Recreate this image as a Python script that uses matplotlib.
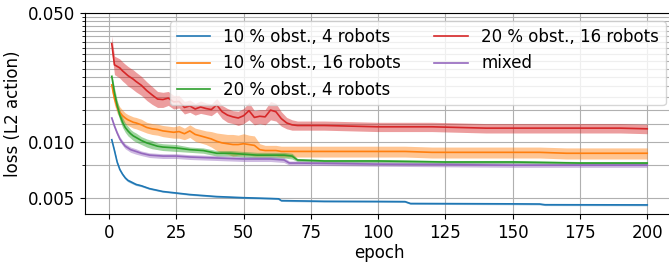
import numpy as np
import matplotlib
matplotlib.use("Agg")
import matplotlib.pyplot as plt
from matplotlib.ticker import FixedLocator, MultipleLocator, FormatStrFormatter, NullFormatter

# --- datos ---
labels = ["10 % obst., 4 robots", "10 % obst., 16 robots", "20 % obst., 4 robots",
          "20 % obst., 16 robots", "mixed"]

ep_dense = [1, 2, 3, 4, 5, 6, 7, 8, 9, 10,
            12, 14, 16, 18, 20, 22, 24, 26, 28, 30,
            32, 34, 36, 38, 40, 42, 44, 46, 48, 50,
            52, 54, 56, 58, 60, 62, 64, 66, 68, 70,
            80, 90, 100, 110, 120, 130, 140, 150, 160, 170, 180, 190, 200]

red_loss = [0.0341, 0.0262, 0.0257, 0.0252, 0.0243, 0.0236, 0.0229, 0.0224, 0.0219, 0.0213,
            0.0203, 0.0190, 0.0180, 0.0171, 0.0170, 0.0173, 0.0165, 0.0166, 0.0154, 0.0157,
            0.0151, 0.0155, 0.0152, 0.0150, 0.0159, 0.0146, 0.0140, 0.0137, 0.0135, 0.0139,
            0.0148, 0.0136, 0.0138, 0.0137, 0.0149, 0.0146, 0.0134, 0.0127, 0.0124, 0.0123,
            0.0123, 0.0122, 0.0121, 0.0121, 0.0121, 0.0120, 0.0119, 0.0119, 0.0119, 0.0119,
            0.0119, 0.0119, 0.0118]
red_std = [0.0035, 0.0030, 0.0030, 0.0030, 0.0029, 0.0028, 0.0028, 0.0027, 0.0027, 0.0026,
           0.0024, 0.0022, 0.0020, 0.0017, 0.0016, 0.0015, 0.0014, 0.0013, 0.0012, 0.0012,
           0.0011, 0.0012, 0.0011, 0.0011, 0.0013, 0.0012, 0.0012, 0.0011, 0.0012, 0.0013,
           0.0016, 0.0012, 0.0012, 0.0013, 0.0017, 0.0016, 0.0012, 0.0009, 0.0008, 0.0007,
           0.0007, 0.0007, 0.0007, 0.0007, 0.0007, 0.0007, 0.0007, 0.0007, 0.0007, 0.0007,
           0.0007, 0.0007, 0.0007]

orange_loss = [0.0204, 0.0172, 0.0154, 0.0145, 0.0139, 0.0135, 0.0132, 0.0130, 0.0128, 0.0127,
               0.0124, 0.0120, 0.0118, 0.0117, 0.0115, 0.0114, 0.0113, 0.0114, 0.0111, 0.0115,
               0.0110, 0.0108, 0.0106, 0.0104, 0.0101, 0.0099, 0.0098, 0.0097, 0.0097, 0.0098,
               0.0097, 0.0096, 0.0091, 0.0090, 0.0090, 0.0090, 0.0089, 0.0089, 0.0089, 0.0089,
               0.0089, 0.0089, 0.0089, 0.0089, 0.0088, 0.0088, 0.0088, 0.0088, 0.0088, 0.0087,
               0.0087, 0.0087, 0.0087]
orange_std = [0.0015, 0.0013, 0.0011, 0.0010, 0.0010, 0.0009, 0.0009, 0.0009, 0.0009, 0.0009,
              0.0009, 0.0008, 0.0008, 0.0008, 0.0008, 0.0008, 0.0008, 0.0009, 0.0008, 0.0009,
              0.0009, 0.0009, 0.0009, 0.0010, 0.0011, 0.0012, 0.0012, 0.0013, 0.0012, 0.0013,
              0.0012, 0.0012, 0.0007, 0.0006, 0.0006, 0.0006, 0.0006, 0.0006, 0.0006, 0.0006,
              0.0006, 0.0006, 0.0006, 0.0006, 0.0006, 0.0006, 0.0006, 0.0006, 0.0006, 0.0006,
              0.0006, 0.0006, 0.0006]

green_ep = [1, 2, 3, 4, 5, 6, 7, 8, 9, 10, 12, 14, 16, 18, 20, 25, 30, 35, 40, 45,
            50, 55, 60, 65, 68, 70, 80, 100, 125, 150, 175, 200]
green_loss = [0.0227, 0.0185, 0.0158, 0.0140, 0.0128, 0.0120, 0.0115, 0.0111, 0.0108, 0.0106,
              0.0102, 0.0099, 0.0097, 0.0095, 0.0094, 0.0093, 0.0091, 0.0090, 0.0087, 0.0087,
              0.0086, 0.0085, 0.0085, 0.0085, 0.0084, 0.0080, 0.0079, 0.0079, 0.0078, 0.0078,
              0.0077, 0.0077]
green_std = [0.0008, 0.0012, 0.0011, 0.0009, 0.0008, 0.0007, 0.0007, 0.0006, 0.0006, 0.0006,
             0.0005, 0.0005, 0.0005, 0.0004, 0.0004, 0.0004, 0.0003, 0.0003, 0.0003, 0.0003,
             0.0003, 0.0003, 0.0003, 0.0003, 0.0003, 0.00015, 0.00015, 0.00015, 0.00015, 0.00015,
             0.00015, 0.00015]

purple_ep = [1, 2, 3, 4, 5, 6, 7, 8, 10, 12, 15, 20, 25, 30, 40, 50, 60, 65, 67, 70, 100, 150, 200]
purple_loss = [0.0135, 0.0122, 0.0112, 0.0104, 0.0099, 0.0095, 0.0093, 0.0091, 0.0089, 0.0087,
               0.0085, 0.0084, 0.0084, 0.0083, 0.0082, 0.0081, 0.0081, 0.0080, 0.0077, 0.0077,
               0.0076, 0.0075, 0.0075]
purple_std = [0.0003, 0.0003, 0.0003, 0.0003, 0.0003, 0.0003, 0.0003, 0.0003, 0.0003, 0.00025,
              0.00025, 0.00025, 0.00025, 0.00025, 0.00025, 0.00025, 0.00025, 0.00025, 0.0002, 0.0002,
              0.0002, 0.0002, 0.0002]

blue_ep = [1, 2, 3, 4, 5, 6, 7, 8, 10, 12, 15, 20, 25, 30, 40, 50, 60, 63, 64, 80,
           100, 110, 112, 150, 160, 162, 200]
blue_loss = [0.0103, 0.0090, 0.0078, 0.0071, 0.0067, 0.0064, 0.0062, 0.0061, 0.0059, 0.0058,
             0.0056, 0.0054, 0.0053, 0.0052, 0.00507, 0.00500, 0.00495, 0.00493, 0.00482, 0.00478,
             0.00477, 0.00476, 0.00465, 0.00463, 0.00462, 0.00458, 0.00457]
blue_std = [0.00005, 0.0001, 0.0001, 0.0001, 0.0001, 0.0001, 0.0001, 0.0001, 0.00008, 0.00007,
            0.00006, 0.00005, 0.00005, 0.00005, 0.00005, 0.00005, 0.00005, 0.00005, 0.00005, 0.00005,
            0.00005, 0.00005, 0.00005, 0.00005, 0.00005, 0.00005, 0.00005]

y_ticks = [0.005, 0.01, 0.05]

series = [
    (blue_ep, blue_loss, blue_std, "C0"),
    (ep_dense, orange_loss, orange_std, "C1"),
    (green_ep, green_loss, green_std, "C2"),
    (ep_dense, red_loss, red_std, "C3"),
    (purple_ep, purple_loss, purple_std, "C4"),
]

plt.rcParams["font.size"] = 12

fig = plt.figure(figsize=(6.69, 2.62), dpi=100)
ax = fig.add_axes([85 / 669, 48 / 262, 589 / 669, 201 / 262])

for (ep, m, s, c), lab in zip(series, labels):
    ep = np.array(ep)
    m = np.array(m)
    s = np.array(s)
    ax.plot(ep, m, color=c, lw=1.2, label=lab)
    ax.fill_between(ep, m - s, m + s, color=c, alpha=0.45, lw=0)

ax.set_yscale("log")
ax.set_ylim(0.00408, 0.05)
ax.set_xlim(-8.95, 209.95)
ax.set_xticks([0, 25, 50, 75, 100, 125, 150, 175, 200])
ax.yaxis.set_major_locator(FixedLocator(y_ticks))
ax.yaxis.set_major_formatter(FormatStrFormatter("%.3f"))
ax.yaxis.set_minor_locator(MultipleLocator(0.0025))
ax.yaxis.set_minor_formatter(NullFormatter())
ax.grid(True, which="both", color="#b0b0b0", lw=0.8)
ax.set_axisbelow(True)

ax.set_xlabel("epoch", labelpad=2)
ax.set_ylabel("loss (L2 action)")
ax.legend(loc="upper right", ncol=2)

fig.savefig("out.png", dpi=100)
